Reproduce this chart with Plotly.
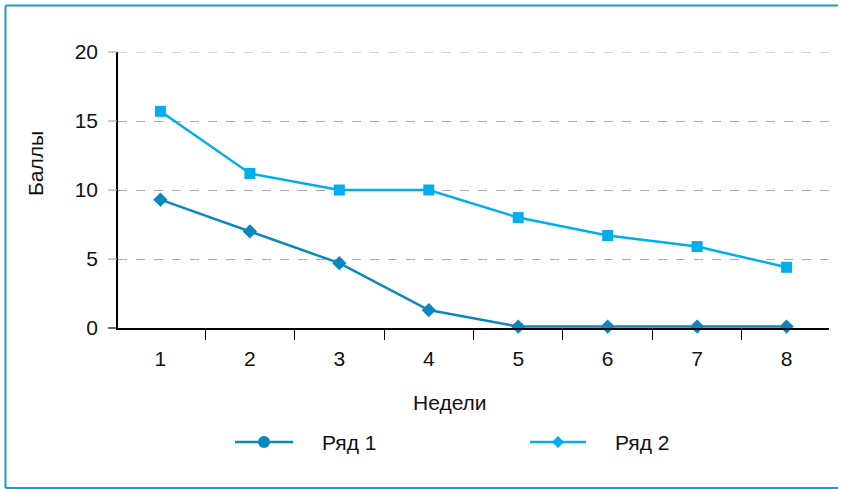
import plotly.graph_objects as go

# Weekly scores for two series
weeks = ["1", "2", "3", "4", "5", "6", "7", "8"]
series1 = [9.3, 7.0, 4.7, 1.3, 0.1, 0.1, 0.1, 0.1]
series2 = [15.7, 11.2, 10.0, 10.0, 8.0, 6.7, 5.9, 4.4]
series_names = ["Ряд 1", "Ряд 2"]
y_ticks = [0, 5, 10, 15, 20]

DARK = "#0a87c0"
LIGHT = "#00aeef"
FRAME = "#1a9fc4"
FONT = "Liberation Sans, Arial, sans-serif"
FS = 21

W, H = 841, 489
ML, MR, MT, MB = 118, 12, 52, 161
PW, PH = W - ML - MR, H - MT - MB


def px(x):
    return (x - ML) / PW


def py(y):
    return (H - MB - y) / PH


fig = go.Figure()
fig.add_trace(go.Scatter(
    x=weeks, y=series1, mode="lines+markers", name=series_names[0],
    line=dict(color=DARK, width=2.5),
    marker=dict(symbol="diamond", size=11, color=DARK),
    showlegend=False, cliponaxis=False,
))
fig.add_trace(go.Scatter(
    x=weeks, y=series2, mode="lines+markers", name=series_names[1],
    line=dict(color=LIGHT, width=2.5),
    marker=dict(symbol="square", size=11, color=LIGHT),
    showlegend=False, cliponaxis=False,
))

shapes = []
# outer frame: left, top and bottom edges; the right side stays open
frame_line = dict(color=FRAME, width=2)
for (x0, y0, x1, y1) in [(5.5, 5.5, 5.5, 488), (5.5, 5.5, W - 3, 5.5), (5.5, 488, W - 3, 488)]:
    shapes.append(dict(type="line", xref="paper", yref="paper",
                       x0=px(x0), y0=py(y0), x1=px(x1), y1=py(y1),
                       line=frame_line))
# top gridline at the upper end of the range
shapes.append(dict(type="line", xref="paper", yref="y", x0=0, x1=1,
                   y0=y_ticks[-1], y1=y_ticks[-1],
                   line=dict(color="#aaaaaa", width=1.2, dash="dash"), layer="below"))
# short outside ticks on the value axis
for v in y_ticks:
    yy = MT + PH * (1 - v / 20)
    shapes.append(dict(type="line", xref="paper", yref="paper",
                       x0=px(108), x1=px(118), y0=py(yy), y1=py(yy),
                       line=dict(color="#000000" if v == 0 else "#aaaaaa",
                                 width=1.2, dash="solid" if v == 0 else "dash")))

# legend entries
legend_items = [
    (series_names[0], DARK, 235, 293, "circle"),
    (series_names[1], LIGHT, 530, 586, "diamond"),
]
annotations = []
LY = 442
for name, col, x0, x1, sym in legend_items:
    shapes.append(dict(type="line", xref="paper", yref="paper",
                       x0=px(x0), x1=px(x1), y0=py(LY), y1=py(LY),
                       line=dict(color=col, width=2.5)))
    cx = (x0 + x1) / 2
    r = 6
    if sym == "circle":
        shapes.append(dict(type="circle", xref="paper", yref="paper",
                           x0=px(cx - r), x1=px(cx + r), y0=py(LY - r), y1=py(LY + r),
                           line=dict(color=col, width=0), fillcolor=col))
    else:
        path = "M {} {} L {} {} L {} {} L {} {} Z".format(
            px(cx), py(LY - r), px(cx + r), py(LY), px(cx), py(LY + r), px(cx - r), py(LY))
        shapes.append(dict(type="path", xref="paper", yref="paper", path=path,
                           line=dict(color=col, width=0), fillcolor=col))
    annotations.append(dict(text=name, xref="paper", yref="paper",
                            x=px(x1 + 27), y=py(LY), xanchor="left", yanchor="middle",
                            showarrow=False, font=dict(family=FONT, size=FS, color="#111")))

# axis titles
annotations.append(dict(text="Недели", xref="paper", yref="paper",
                        x=px(450), y=py(402), xanchor="center", yanchor="middle",
                        showarrow=False, font=dict(family=FONT, size=FS, color="#111")))
annotations.append(dict(text="Баллы", xref="paper", yref="paper",
                        x=px(35), y=py(164), xanchor="center", yanchor="middle",
                        textangle=-90, showarrow=False,
                        font=dict(family=FONT, size=FS, color="#111")))

fig.update_layout(
    width=W, height=H,
    margin=dict(l=ML, r=MR, t=MT, b=MB),
    paper_bgcolor="white", plot_bgcolor="white",
    font=dict(family=FONT, size=FS, color="#111"),
    shapes=shapes, annotations=annotations,
    showlegend=False,
)
fig.update_xaxes(
    type="category", categoryorder="array", categoryarray=weeks,
    tickson="boundaries", ticks="outside", ticklen=10, tickwidth=1.2,
    tickcolor="#000", showline=True, linecolor="#000", linewidth=1.5,
    showgrid=False, zeroline=False, ticklabelstandoff=11,
)
fig.update_yaxes(
    range=[0, 20], tickvals=y_ticks, ticks="", showline=True,
    linecolor="#000", linewidth=1.5, showgrid=True, gridcolor="#aaaaaa",
    griddash="dash", gridwidth=1.2, zeroline=False, ticklabelstandoff=14,
)

fig.write_html("out.html")
